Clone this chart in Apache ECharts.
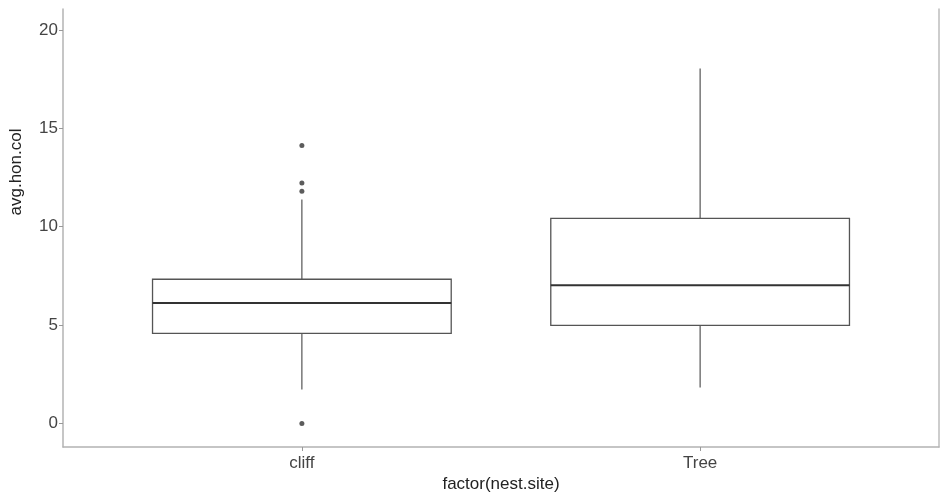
<!DOCTYPE html>
<html>
<head>
<meta charset="utf-8">
<script src="https://cdn.jsdelivr.net/npm/echarts@6/dist/echarts.min.js"></script>
<style>html,body{margin:0;padding:0;background:#fff}#c{width:948px;height:501px}</style>
</head>
<body>
<div id="c"></div>
<script>
const categories = ['cliff', 'Tree'];
const lowerWhisker = [1.72, 1.82];
const q1 = [4.58, 4.98];
const median = [6.12, 7.02];
const q3 = [7.33, 10.42];
const upperWhisker = [11.38, 18.04];
const outliers = [['cliff', 0], ['cliff', 11.8], ['cliff', 12.22], ['cliff', 14.13]];
const yTicks = [0, 5, 10, 15, 20];
const yTitle = 'avg.hon.col';
const xTitle = 'factor(nest.site)';

const boxData = categories.map((c, i) => [i, lowerWhisker[i], q1[i], median[i], q3[i], upperWhisker[i]]);

const chart = echarts.init(document.getElementById('c'));
const YMIN = -1.2, YMAX = 21.07;
const font = 'Liberation Sans, Arial, sans-serif';

chart.setOption({
  backgroundColor: '#fff',
  animation: false,
  grid: [
    { left: 63, right: 9, top: 9, bottom: 54 },
    { left: 102.75, right: 48.75, top: 9, bottom: 54 }
  ],
  xAxis: [
    { gridIndex: 0, type: 'value', min: 0, max: 1,
      axisLine: { show: true, onZero: false, lineStyle: { color: '#b3b3b3', width: 1.5 } },
      axisTick: { show: false }, axisLabel: { show: false }, splitLine: { show: false },
      name: xTitle, nameLocation: 'middle', nameGap: 29,
      nameTextStyle: { fontFamily: font, fontSize: 17, color: '#222' } },
    { gridIndex: 1, type: 'category', data: categories, boundaryGap: true,
      axisLine: { show: false, onZero: false },
      axisTick: { show: true, alignWithLabel: true, length: 4, lineStyle: { color: '#999' } },
      axisLabel: { fontFamily: font, fontSize: 17, color: '#444', margin: 8 },
      splitLine: { show: false } }
  ],
  yAxis: [
    { gridIndex: 0, type: 'value', min: YMIN, max: YMAX,
      axisLine: { show: true, onZero: false, lineStyle: { color: '#b3b3b3', width: 1.5 } },
      axisTick: { show: true, length: 4, customValues: yTicks, lineStyle: { color: '#999' } },
      axisLabel: { fontFamily: font, fontSize: 17, color: '#444', margin: 5, customValues: yTicks },
      splitLine: { show: false },
      name: yTitle, nameLocation: 'middle', nameGap: 38, nameRotate: 90,
      nameTextStyle: { fontFamily: font, fontSize: 17, color: '#222', padding: [0, 0, 0, 112] } },
    { gridIndex: 0, type: 'value', position: 'right', min: YMIN, max: YMAX,
      axisLine: { show: true, onZero: false, lineStyle: { color: '#bdbdbd', width: 1.5 } },
      axisTick: { show: false }, axisLabel: { show: false }, splitLine: { show: false } },
    { gridIndex: 1, type: 'value', min: YMIN, max: YMAX, show: false }
  ],
  series: [
    {
      type: 'custom', xAxisIndex: 1, yAxisIndex: 2,
      data: boxData,
      encode: { x: 0, y: [1, 2, 3, 4, 5] },
      renderItem: function (params, api) {
        const idx = api.value(0);
        const bw = api.size([1, 0])[0] * 0.75;
        const pLo = api.coord([idx, api.value(1)]);
        const pQ1 = api.coord([idx, api.value(2)]);
        const pMed = api.coord([idx, api.value(3)]);
        const pQ3 = api.coord([idx, api.value(4)]);
        const pHi = api.coord([idx, api.value(5)]);
        const cx = pQ1[0];
        const x0 = cx - bw / 2, x1 = cx + bw / 2;
        return {
          type: 'group',
          children: [
            { type: 'line', shape: { x1: cx, y1: pQ1[1], x2: cx, y2: pLo[1] }, style: { stroke: '#555', lineWidth: 1.2 } },
            { type: 'line', shape: { x1: cx, y1: pQ3[1], x2: cx, y2: pHi[1] }, style: { stroke: '#555', lineWidth: 1.2 } },
            { type: 'rect', shape: { x: x0, y: pQ3[1], width: bw, height: pQ1[1] - pQ3[1] }, style: { fill: '#fff', stroke: '#555', lineWidth: 1.3 } },
            { type: 'line', shape: { x1: x0, y1: pMed[1], x2: x1, y2: pMed[1] }, style: { stroke: '#333', lineWidth: 2 } }
          ]
        };
      }
    },
    {
      type: 'scatter', xAxisIndex: 1, yAxisIndex: 2,
      data: outliers, symbol: 'circle', symbolSize: 5,
      itemStyle: { color: '#333' }
    }
  ]
});
</script>
</body>
</html>
